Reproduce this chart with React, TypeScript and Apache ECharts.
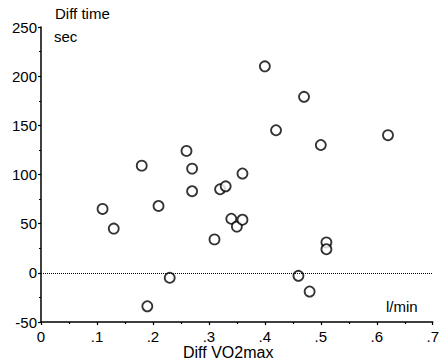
import React, { useEffect, useRef } from "react";
import * as echarts from "echarts";

const xValues = [0.11, 0.13, 0.18, 0.19, 0.21, 0.23, 0.26, 0.27, 0.27, 0.31, 0.32, 0.33, 0.34, 0.35, 0.36, 0.36, 0.40, 0.42, 0.47, 0.50, 0.62, 0.51, 0.51, 0.46, 0.48];
const yValues = [65, 45, 109, -34, 68, -5, 124, 106, 83, 34, 85, 88, 55, 47, 54, 101, 210, 145, 179, 130, 140, 31, 24, -3, -19];

const xTicks = { min: 0, max: 0.7, interval: 0.1 };
const yTicks = { min: -50, max: 250, interval: 50 };

const FONT = "'Liberation Sans', Arial, sans-serif";

export default function App() {
  const ref = useRef<HTMLDivElement>(null);
  useEffect(() => {
    if (!ref.current) return;
    const chart = echarts.init(ref.current, null, { renderer: "svg" });
    const data = xValues.map((x, i) => [x, yValues[i]]);
    chart.setOption({
      animation: false,
      backgroundColor: "#fff",
      grid: { left: 41, top: 27, width: 397, height: 295 },
      xAxis: {
        type: "value",
        min: xTicks.min,
        max: xTicks.max,
        interval: xTicks.interval,
        splitLine: { show: false },
        axisLine: { show: true, onZero: false, lineStyle: { color: "#000", width: 1.5 } },
        axisTick: { show: true, inside: false, length: 3, lineStyle: { color: "#000", width: 1.2 } },
        minorTick: { show: true, splitNumber: 2, length: 2, lineStyle: { color: "#000", width: 1.2 } },
        axisLabel: {
          color: "#000",
          fontFamily: FONT,
          fontSize: 15,
          margin: 7,
          formatter: (v: number) => (Math.abs(v) < 1e-9 ? "0" : v.toFixed(1).replace(/^0/, "")),
        },
      },
      yAxis: {
        type: "value",
        min: yTicks.min,
        max: yTicks.max,
        interval: yTicks.interval,
        splitLine: { show: false },
        axisLine: { show: true, onZero: false, lineStyle: { color: "#000", width: 1.5 } },
        axisTick: { show: true, inside: false, length: 3, lineStyle: { color: "#000", width: 1.2 } },
        minorTick: { show: true, splitNumber: 2, length: 2, lineStyle: { color: "#000", width: 1.2 } },
        axisLabel: { color: "#000", fontFamily: FONT, fontSize: 15, margin: 4 },
      },
      series: [
        {
          type: "scatter",
          data,
          symbol: "circle",
          symbolSize: 10,
          itemStyle: { color: "#fff", borderColor: "#000", borderWidth: 1.8 },
          markLine: {
            silent: true,
            symbol: "none",
            label: { show: false },
            lineStyle: { color: "#000", type: "dotted", width: 1 },
            data: [{ yAxis: 0 }],
          },
        },
      ],
      graphic: [
        { type: "text", left: 55, top: 6, style: { text: "Diff time", fontFamily: FONT, fontSize: 15, fill: "#000" } },
        { type: "text", left: 54, top: 29, style: { text: "sec", fontFamily: FONT, fontSize: 15, fill: "#000" } },
        { type: "text", left: 386, top: 299, style: { text: "l/min", fontFamily: FONT, fontSize: 15, fill: "#000" } },
        { type: "text", left: 183, top: 344, style: { text: "Diff VO2max", fontFamily: FONT, fontSize: 16, fill: "#000" } },
      ],
    });
    return () => chart.dispose();
  }, []);
  return <div ref={ref} style={{ position: "fixed", left: 0, top: 0, width: 442, height: 360 }} />;
}
